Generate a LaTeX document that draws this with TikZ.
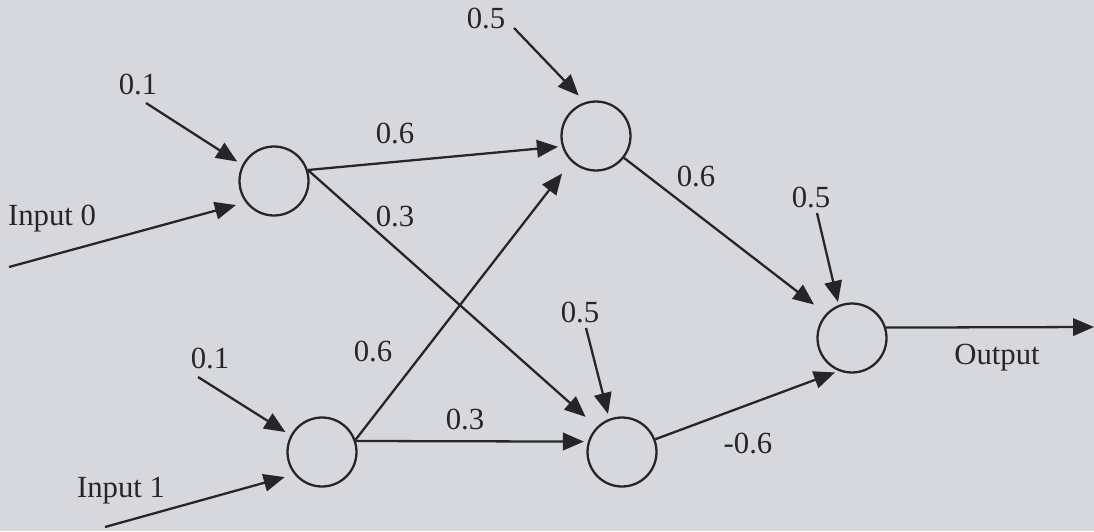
\documentclass[tikz,border=0pt]{standalone}
\usepackage{fontspec}
\setmainfont{Liberation Serif}
\usetikzlibrary{arrows.meta}

\definecolor{scanbg}{RGB}{214,216,222}
\definecolor{ink}{RGB}{38,38,42}

\begin{document}
\begin{tikzpicture}[x=0.02cm,y=-0.02cm,
  every node/.style={font=\fontsize{17.5}{20}\selectfont,text=ink},
  neuron/.style={circle,draw=ink,line width=1.3pt,minimum size=1.38cm,inner sep=0pt},
  link/.style={-{Triangle[length=0.42cm,width=0.35cm]},line width=1.3pt,draw=ink,shorten >=0.08cm},
  farlink/.style={link,shorten >=0.3cm}]
  % Scanned page background
  \fill[scanbg] (0,0) rectangle (1094,531);
  \useasboundingbox (0,0) rectangle (1094,531);

  % Neurons
  \node[neuron] (hidA) at (274,181) {};
  \node[neuron] (hidC) at (322,452) {};
  \node[neuron] (hidB) at (596,136) {};
  \node[neuron] (hidD) at (622,452) {};
  \node[neuron] (outE) at (852,338) {};

  % Free ends of the inputs, biases and output
  \coordinate (biasA) at (146,103);
  \coordinate (inZero) at (9,267);
  \coordinate (biasC) at (198,377);
  \coordinate (inOne) at (105,527);
  \coordinate (biasB) at (514,28);
  \coordinate (biasD) at (586,328);
  \coordinate (biasE) at (817,213);
  \coordinate (outEnd) at (1094,327);

  % Inputs and biases
  \draw[link,shorten >=0.12cm] (biasA) -- (hidA.153);
  \draw[link,shorten >=0.2cm] (inZero) -- (hidA.217);
  \draw[link,shorten >=0.12cm] (biasC) -- (hidC.152);
  \draw[link,shorten >=0.2cm] (inOne) -- (hidC.219);
  \draw[link,shorten >=0.18cm] (biasB) -- (hidB.108);
  \draw[link,shorten >=0.1cm] (biasD) -- (hidD.111);
  \draw[link,shorten >=0.06cm] (biasE) -- (outE.112);

  % Weighted connections
  \draw[link] (hidA.18) -- (hidB.197);
  \draw[farlink] (hidA.18) -- (hidD.135);
  \draw[farlink] (hidC.20) -- (hidB.226);
  \draw[link] (hidC.18) -- (hidD.163);
  \draw[farlink] (hidB.-38) -- (outE.137);
  \draw[link] (hidD.21) -- (outE.248);
  \draw[link,shorten >=0pt] (outE.17) -- (outEnd);

  % Labels
  \node (lblBiasA) at (138,84) {0.1};
  \node (lblInZero) at (52,219) {Input 0};
  \node (lblAB) at (395,133) {0.6};
  \node (lblAD) at (395,216) {0.3};
  \node (lblBiasB) at (486,18) {0.5};
  \node (lblBE) at (696,176) {0.6};
  \node (lblBiasE) at (811,197) {0.5};
  \node (lblBiasC) at (210,358) {0.1};
  \node (lblCB) at (373,351) {0.6};
  \node (lblCD) at (465,419) {0.3};
  \node (lblInOne) at (121,491) {Input 1};
  \node (lblBiasD) at (580,312) {0.5};
  \node (lblDE) at (748,443) {-0.6};
  \node (lblOut) at (997,358) {Output};
\end{tikzpicture}
\end{document}
